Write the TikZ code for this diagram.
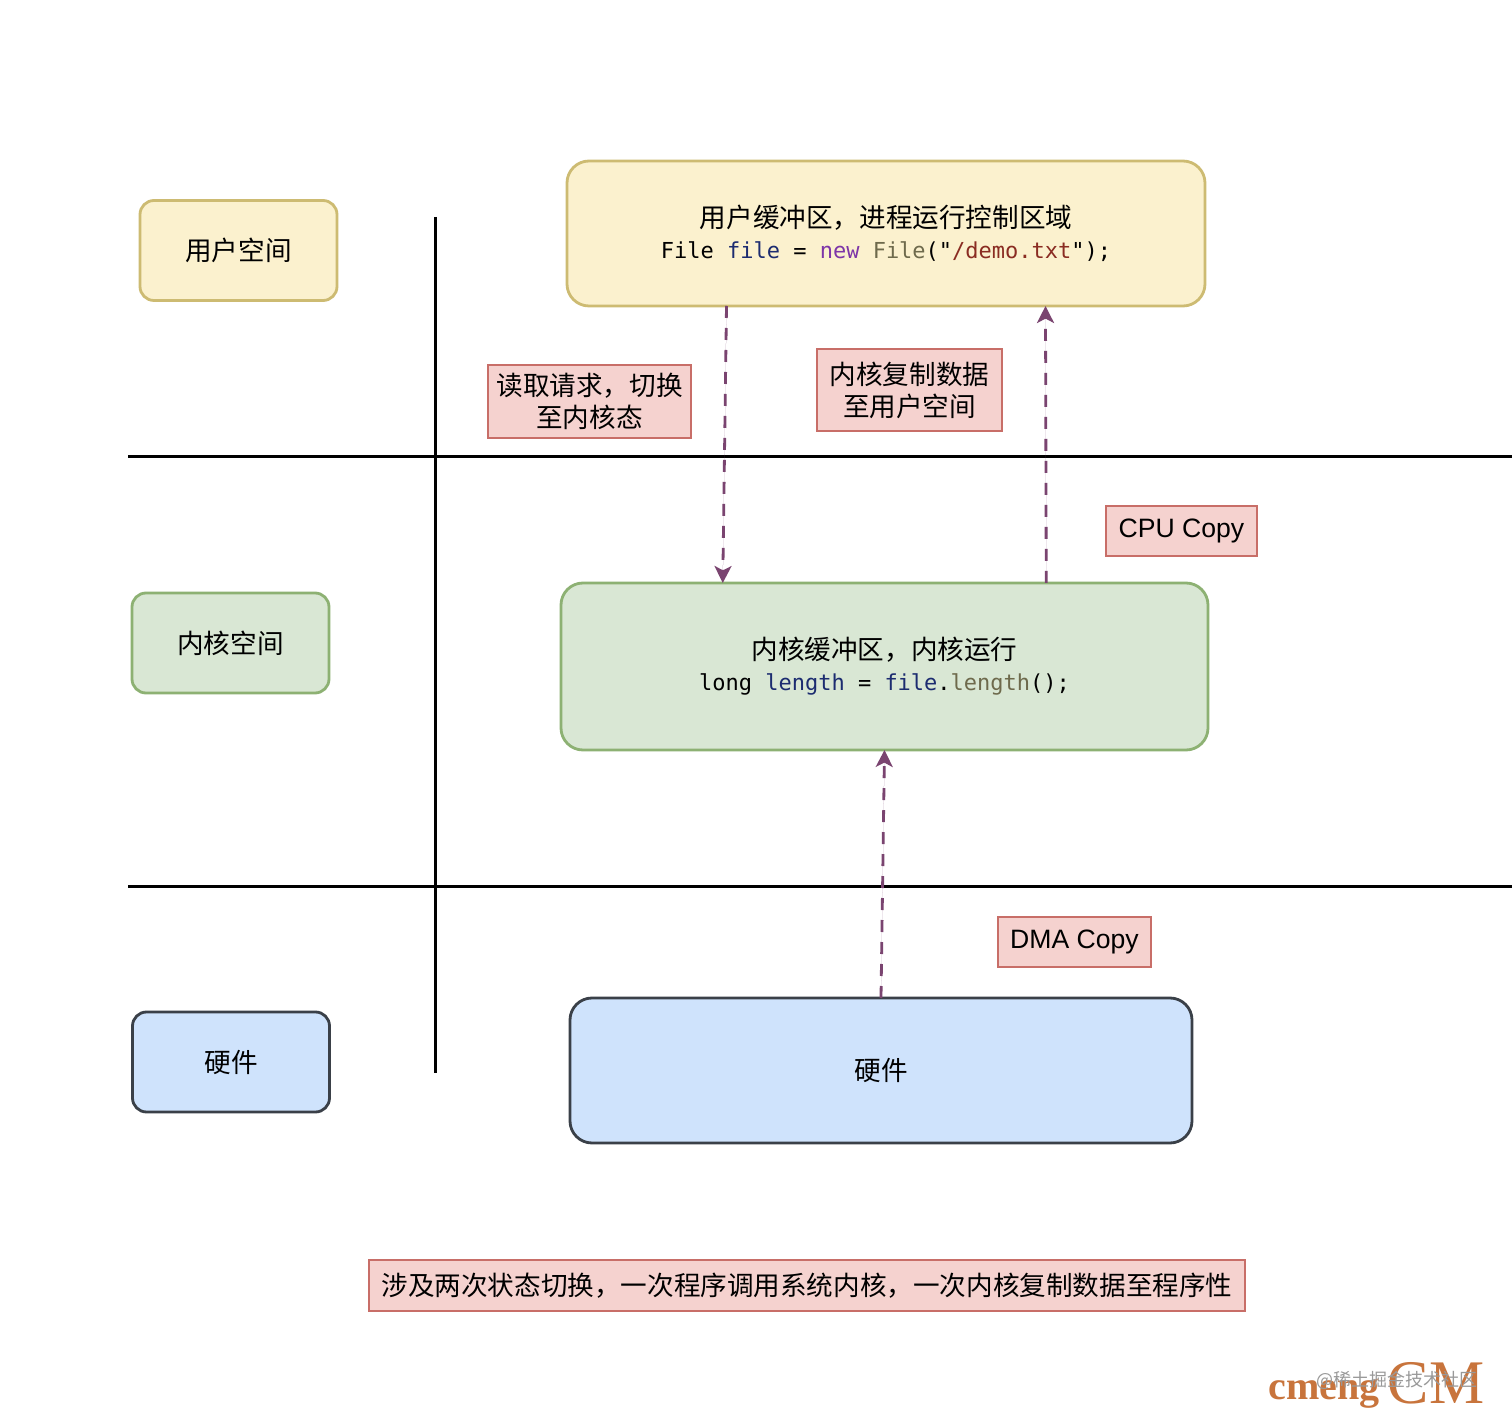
\documentclass[tikz,border=0pt]{standalone}
\usepackage{fontspec}
\setmainfont{Noto Sans CJK SC}
\setmonofont{DejaVu Sans Mono}
\newfontfamily\latinsans{Liberation Sans}
\newfontfamily\latinserif{Liberation Serif}
\usetikzlibrary{arrows.meta}
\usetikzlibrary{calc}
\definecolor{yellowfill}{HTML}{FBF1CE}
\definecolor{yellowline}{HTML}{CDBB72}
\definecolor{greenfill}{HTML}{D9E7D4}
\definecolor{greenline}{HTML}{8DB173}
\definecolor{bluefill}{HTML}{CFE3FC}
\definecolor{blueline}{HTML}{3A4048}
\definecolor{notefill}{HTML}{F5D2CF}
\definecolor{noteline}{HTML}{C86E68}
\definecolor{copyline}{HTML}{7A4470}
\definecolor{codenavy}{HTML}{1C2C70}
\definecolor{codepurple}{HTML}{7D35A8}
\definecolor{codeolive}{HTML}{6E6A4C}
\definecolor{codered}{HTML}{8A2C22}
\definecolor{markorange}{HTML}{C8743C}
\tikzset{
  area/.style={draw, line width=1.4pt, rounded corners=7pt, align=center, outer sep=0pt,
    font=\fontsize{13.3pt}{16.5pt}\selectfont, minimum width=98.5pt, minimum height=50pt},
  buffer/.style={area, rounded corners=11pt},
  user/.style={draw=yellowline, fill=yellowfill},
  kernel/.style={draw=greenline, fill=greenfill},
  hardware/.style={draw=blueline, fill=bluefill},
  note/.style={draw=noteline, fill=notefill, line width=0.6pt, align=center, outer sep=0pt,
    inner sep=0pt, font=\fontsize{13.3pt}{16pt}\selectfont},
  copynote/.style={note, font=\latinsans\fontsize{13.3pt}{16pt}\selectfont},
  divider/.style={line width=1.5pt},
  copyarrow/.style={-{Stealth[length=8.5pt, width=8.5pt, inset=2.2pt]}, draw=copyline, fill=copyline, line width=1.4pt, dash pattern=on 6pt off 5pt},
}
\begin{document}
\begin{tikzpicture}[x=0.5pt, y=-0.5pt]
  \useasboundingbox (0,0) rectangle (1512,1427);
  \fill[white] (0,0) rectangle (1512,1427);

  \coordinate (upperleft) at (128,457);
  \coordinate (upperright) at (1512,457);
  \coordinate (lowerleft) at (128,887);
  \coordinate (lowerright) at (1512,887);
  \coordinate (splittop) at (435,217);
  \coordinate (splitbottom) at (435,1073);
  \draw[divider] (upperleft) -- (upperright);
  \draw[divider] (lowerleft) -- (lowerright);
  \draw[divider] (splittop) -- (splitbottom);

  \node[area, user] (userspace) at (238.5,250.5) {用户空间};
  \node[area, kernel] (kernelspace) at (230.5,643) {内核空间};
  \node[area, hardware] (hardwarespace) at (231,1062) {硬件};

  \node[buffer, user, minimum width=319pt, minimum height=72.5pt] (userbuf) at (886,233.5)
    {用户缓冲区，进程运行控制区域\\[-1pt]
    {\ttfamily\fontsize{11pt}{16.5pt}\selectfont File \textcolor{codenavy}{file} = \textcolor{codepurple}{new} \textcolor{codeolive}{File}("\textcolor{codered}{/demo.txt}");}};
  \node[buffer, kernel, minimum width=323.5pt, minimum height=83.5pt] (kernelbuf) at (884.5,666.5)
    {内核缓冲区，内核运行\\[-1pt]
    {\ttfamily\fontsize{11pt}{16.5pt}\selectfont long \textcolor{codenavy}{length} = \textcolor{codenavy}{file}.\textcolor{codeolive}{length}();}};
  \node[buffer, hardware, minimum width=311pt, minimum height=72.5pt] (hardwarebuf) at (881,1070.5) {硬件};

  \draw[copyarrow] ($(userbuf.south west)!0.25!(userbuf.south east)$) -- ($(kernelbuf.north west)!0.25!(kernelbuf.north east)$);
  \draw[copyarrow] ($(kernelbuf.north west)!0.75!(kernelbuf.north east)$) -- ($(userbuf.south west)!0.75!(userbuf.south east)$);
  \draw[copyarrow] (hardwarebuf.north) -- (kernelbuf.south);

  \node[note, minimum width=101.5pt, minimum height=36.5pt] (readnote) at (589.5,401.5) {读取请求，切换\\至内核态};
  \node[note, minimum width=92.5pt, minimum height=41pt] (copynote) at (909.5,390) {内核复制数据\\至用户空间};
  \node[copynote, minimum width=75.5pt, minimum height=25pt] (cpunote) at (1181.5,531) {\raisebox{-1pt}{CPU Copy}};
  \node[copynote, minimum width=76.5pt, minimum height=25pt] (dmanote) at (1074.5,942) {\raisebox{-1pt}{DMA Copy}};
  \node[note, minimum width=438pt, minimum height=25.5pt] (summary) at (807,1285.5)
    {涉及两次状态切换，一次程序调用系统内核，一次内核复制数据至程序性};

  \node[text=markorange, font=\latinserif\bfseries\fontsize{20pt}{20pt}\selectfont, inner sep=0pt] (markname) at (1324,1394) {cmeng};
  \node[text=markorange, font=\latinserif\fontsize{31pt}{31pt}\selectfont, inner sep=0pt] (markcm) at (1436,1383) {CM};
  \node[text=black!40, font=\fontsize{9pt}{9pt}\selectfont, inner sep=0pt] (markgrey) at (1397,1380) {@稀土掘金技术社区};
\end{tikzpicture}
\end{document}
